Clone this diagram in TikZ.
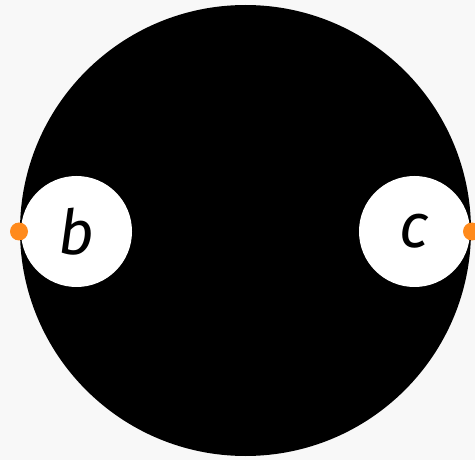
\documentclass[tikz,border=0pt]{standalone}
\usepackage{fontspec}
\setmainfont{Fira Sans}
\definecolor{bgGray}{HTML}{F8F8F8}
\definecolor{pinOrange}{HTML}{FF8A1C}
\begin{document}
\begin{tikzpicture}[
    x=1pt,y=-1pt,
    disk/.style={circle,fill=black,inner sep=0pt,minimum size=451pt},
    hole/.style={circle,fill=white,inner sep=0pt,minimum size=111pt,font=\fontsize{62}{66}\selectfont\itshape},
    pin/.style={circle,fill=pinOrange,inner sep=0pt,minimum size=18pt}
]
\fill[bgGray] (0,0) rectangle (475,460);
\useasboundingbox (0,0) rectangle (475,460);
\node[disk] (world) at (245.5,230.5) {};
\node[hole] (b) at (76.5,231.5) {b};
\node[hole] (c) at (414.5,231.5) {c};
\node[pin] (pinb) at (19,231.5) {};
\node[pin] (pinc) at (472,231.5) {};
\end{tikzpicture}
\end{document}
